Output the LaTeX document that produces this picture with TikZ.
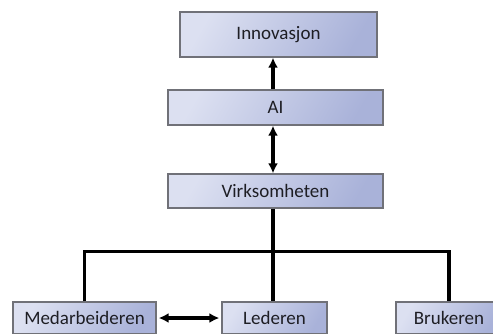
\documentclass[tikz,border=0pt]{standalone}
\usepackage{fontspec}
\setmainfont{Carlito}
\usetikzlibrary{arrows.meta,positioning}

\definecolor{boxlight}{HTML}{DCE0F1}
\definecolor{boxdark}{HTML}{A9B2D9}
\definecolor{boxedge}{HTML}{707178}
\definecolor{textcol}{HTML}{1E1E24}

\tikzset{
  orgbox/.style={draw=boxedge, line width=1.3pt, left color=boxlight, right color=boxdark,
    shading angle=60, inner sep=0pt, text=textcol, font=\fontsize{19}{22}\selectfont},
  link/.style={line width=3.2pt, black},
  onetip/.style={-{Latex[length=10pt,width=10pt]}, line width=3.2pt, black},
  twotip/.style={{Latex[length=10pt,width=10pt]}-{Latex[length=10pt,width=10pt]}, line width=3.2pt, black}
}

\begin{document}
\begin{tikzpicture}[x=1pt, y=-1pt]
  \useasboundingbox (0,0) rectangle (493,333);
  \clip (0,0) rectangle (493,333);

  % top chain
  \node[orgbox, minimum width=197pt, minimum height=45pt] (innov) at (278.5,34.5) {Innovasjon};
  \node[orgbox, minimum width=215pt, minimum height=35pt] (ai) at (275.5,107.5) {AI};
  \node[orgbox, minimum width=215pt, minimum height=34pt] (virk) at (275.5,191) {Virksomheten};

  % bottom row
  \node[orgbox, minimum width=143pt, minimum height=32pt] (medarb) at (84.5,318) {Medarbeideren};
  \node[orgbox, minimum width=105pt, minimum height=32pt] (leder) at (274.5,318) {Lederen};
  \node[orgbox, minimum width=106pt, minimum height=32pt] (bruker) at (449,318) {Brukeren};

  \coordinate (spine) at (273,0);

  \draw[onetip] (ai.north -| spine) -- (innov.south -| spine);
  \draw[twotip] (virk.north -| spine) -- (ai.south -| spine);
  \draw[link] (virk.south -| spine) -- (leder.north -| spine);
  \draw[link] (medarb.north) -- ++(0,-50) -| (bruker.north);
  \draw[twotip] ([xshift=2pt]medarb.east) -- ([xshift=-2pt]leder.west);
\end{tikzpicture}
\end{document}
